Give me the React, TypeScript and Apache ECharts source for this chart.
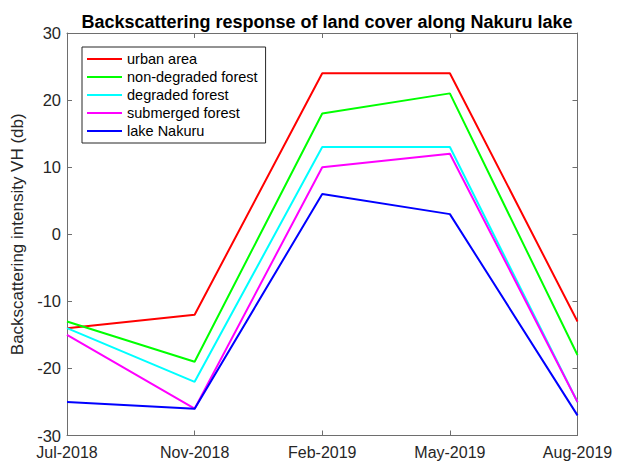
import React, { useEffect, useRef } from "react";
import * as echarts from "echarts";

const categories = ["Jul-2018", "Nov-2018", "Feb-2019", "May-2019", "Aug-2019"];
const seriesNames = ["urban area", "non-degraded forest", "degraded forest", "submerged forest", "lake Nakuru"];
const seriesColors = ["#FF0000", "#00FF00", "#00FFFF", "#FF00FF", "#0000FF"];
const urbanArea = [-14, -12, 24, 24, -13];
const nonDegradedForest = [-13, -19, 18, 21, -18];
const degradedForest = [-14, -22, 13, 13, -25];
const submergedForest = [-15, -26, 10, 12, -25];
const lakeNakuru = [-25, -26, 6, 3, -27];
const seriesValues = [urbanArea, nonDegradedForest, degradedForest, submergedForest, lakeNakuru];

const FONT = "Liberation Sans, Arial, Helvetica, sans-serif";
const AXIS_COLOR = "#6e6e6e";
const TEXT_COLOR = "#262626";

export default function App() {
  const ref = useRef<HTMLDivElement>(null);
  useEffect(() => {
    if (!ref.current) return;
    const chart = echarts.init(ref.current, undefined, { renderer: "svg" });
    const axisLine = { show: true, onZero: false, lineStyle: { color: AXIS_COLOR, width: 1 } };
    const axisTick = { show: true, inside: true, length: 5, lineStyle: { color: AXIS_COLOR, width: 1 } };
    chart.setOption({
      animation: false,
      backgroundColor: "#ffffff",
      title: {
        text: "Backscattering response of land cover along Nakuru lake",
        left: 322,
        textAlign: "center",
        top: 8,
        textStyle: { fontFamily: FONT, fontSize: 18, fontWeight: "bold", color: "#000" },
      },
      legend: {
        orient: "vertical",
        left: 82,
        top: 47,
        padding: [4, 8, 4, 5],
        itemGap: 2,
        itemWidth: 35,
        itemHeight: 2,
        icon: "rect",
        borderColor: "#262626",
        borderWidth: 1,
        backgroundColor: "#ffffff",
        textStyle: { fontFamily: FONT, fontSize: 14.5, color: "#000", lineHeight: 16 },
        data: seriesNames,
      },
      grid: { left: 67, right: 44.5, top: 33, bottom: 26.5, containLabel: false },
      xAxis: [
        {
          type: "category",
          data: categories,
          boundaryGap: false,
          axisLine,
          axisTick: { ...axisTick, alignWithLabel: true },
          axisLabel: { fontFamily: FONT, fontSize: 16, color: TEXT_COLOR, margin: 9 },
          splitLine: { show: false },
        },
        {
          type: "category",
          data: categories,
          boundaryGap: false,
          position: "top",
          axisLine,
          axisTick,
          axisLabel: { show: false },
          splitLine: { show: false },
        },
      ],
      yAxis: [
        {
          type: "value",
          min: -30,
          max: 30,
          interval: 10,
          axisLine,
          axisTick,
          axisLabel: { fontFamily: FONT, fontSize: 16.5, color: TEXT_COLOR, margin: 6 },
          splitLine: { show: false },
          name: "Backscattering intensity VH (db)",
          nameLocation: "middle",
          nameGap: 36,
          nameTextStyle: { fontFamily: FONT, fontSize: 17, color: TEXT_COLOR },
        },
        {
          type: "value",
          min: -30,
          max: 30,
          interval: 10,
          position: "right",
          axisLine,
          axisTick,
          axisLabel: { show: false },
          splitLine: { show: false },
        },
      ],
      series: seriesNames.map((name, i) => ({
        name,
        type: "line",
        data: seriesValues[i],
        symbol: "none",
        color: seriesColors[i],
        lineStyle: { color: seriesColors[i], width: 2 },
      })),
    });
    return () => chart.dispose();
  }, []);
  return <div ref={ref} style={{ width: 622, height: 462, position: "absolute", left: 0, top: 0 }} />;
}
